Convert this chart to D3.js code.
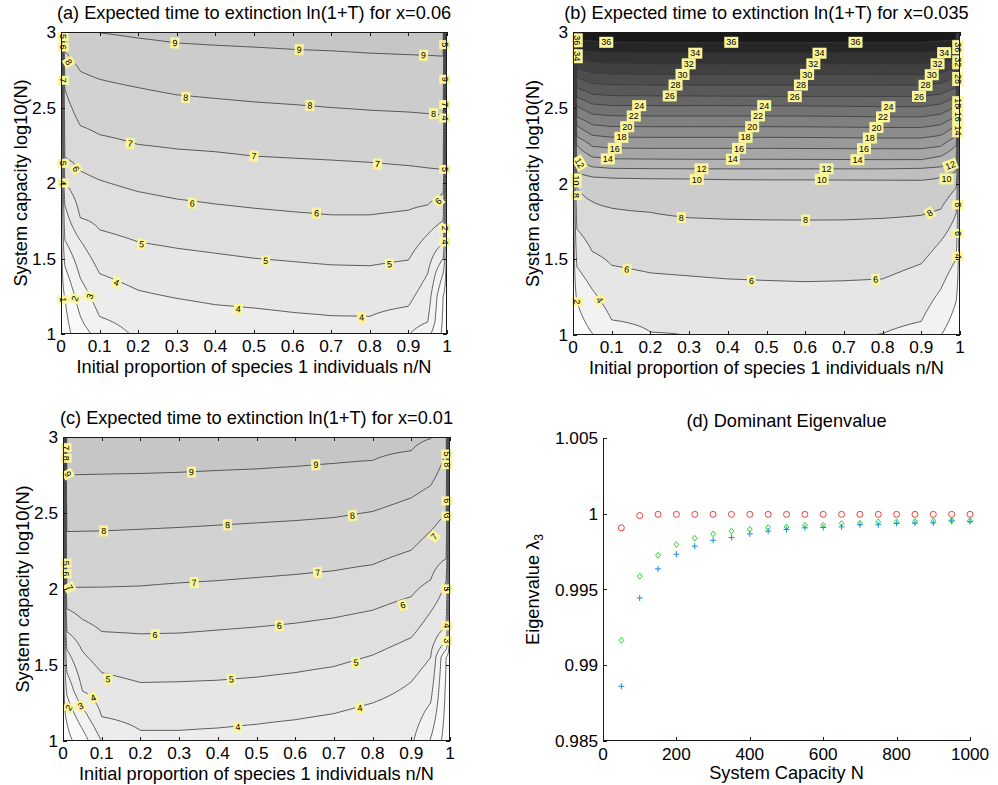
<!DOCTYPE html>
<html><head><meta charset="utf-8">
<script src="https://cdn.jsdelivr.net/npm/d3@7"></script>
<style>
body{margin:0;background:#fff}
text{font-family:"Liberation Sans",Arial,Helvetica,sans-serif;fill:#000}
</style></head>
<body><svg id="chart" width="998" height="785"></svg>
<script>
// ---------- shared axis data ----------
const xTickVals = [0,0.1,0.2,0.3,0.4,0.5,0.6,0.7,0.8,0.9,1];
const yTickVals = [1,1.5,2,2.5,3];
// grid columns (n/N) at which the surface profiles were read
const gridX = [0,0.01,0.05,0.1,0.2,0.3,0.4,0.5,0.6,0.7,0.8,0.9,0.95,0.99,1];

// ---------- panel (a) x=0.06 ----------
const levelsA = [1,2,3,4,5,6,7,8,9];
const bottomA = [0.5,0.6,1.6,2.3,3.2,3.3,3.4,3.45,3.5,3.55,3.6,3.05,2.3,0.8,0.5];
const topA    = [0.5,8.4,8.8,9.02,9.12,9.2,9.22,9.25,9.28,9.3,9.32,9.35,9.35,9.3,0.5];
const crossA = [ // height log10(N) where each level crosses each column
  [null,1.24,null,null,null,null,null,null,null,null,null,null,null,1.25,null],
  [null,1.45,1.12,null,null,null,null,null,null,null,null,null,null,1.40,null],
  [null,1.62,1.37,1.115,null,null,null,null,null,null,null,null,1.08,1.50,null],
  [null,1.85,1.62,1.40,1.29,1.236,1.194,1.172,1.143,1.121,1.117,1.183,1.40,1.60,null],
  [null,2.00,1.77,1.69,1.61,1.568,1.535,1.502,1.48,1.458,1.452,1.49,1.66,1.75,null],
  [null,2.17,2.08,2.02,1.943,1.894,1.861,1.833,1.81,1.789,1.789,1.82,1.855,1.93,null],
  [null,2.62,2.38,2.32,2.255,2.225,2.207,2.178,2.165,2.152,2.137,2.115,2.10,2.09,null],
  [null,2.87,2.74,2.687,2.632,2.584,2.56,2.537,2.52,2.50,2.482,2.47,2.46,2.45,null],
  [null,null,null,2.995,2.96,2.927,2.912,2.90,2.885,2.875,2.86,2.85,2.845,2.84,null]
];
const labelsA = [
  [0.295,2.927,"9",3],[0.617,2.883,"9",2],[0.939,2.846,"9",2],
  [0.323,2.566,"8",4],[0.645,2.513,"8",3],[0.965,2.46,"8",0],
  [0.179,2.262,"7",8],[0.5,2.178,"7",4],[0.82,2.126,"7",3],
  [0.34,1.866,"6",5],[0.662,1.80,"6",2],[0.978,1.881,"6",-40],
  [0.209,1.595,"5",8],[0.53,1.485,"5",3],[0.851,1.463,"5",-5],
  [0.144,1.341,"4",22],[0.459,1.165,"4",5],[0.779,1.11,"4",-3],
  [0.039,2.093,"6",60],[0.02,2.80,"8",60],[0.075,1.249,"3",-70],[0.036,1.234,"2",-70],
  [0.005,1.227,"1",90],[0.006,2.0,"4",90],[0.006,2.13,"5",90],[0.006,2.68,"7",90],
  [0.006,2.90,"6",90],[0.006,2.97,"5",90],[0.994,2.916,"5",90],[0.994,2.687,"9",90],
  [0.994,2.52,"7",90],[0.994,2.43,"4",90],[0.994,2.09,"5",90],[0.994,1.70,"2",90],[0.994,1.61,"4",90]
];

// ---------- panel (b) x=0.035 ----------
const levelsB = [2,4,6,8,10,12,14,16,18,20,22,24,26,28,30,32,34,36];
const bottomB = [0.5,1.0,1.95,2.8,3.7,4.05,4.2,4.25,4.25,4.15,3.95,3.3,2.05,1.0,0.5];
const topB    = [0.5,36.5,36.8,37,37,37,37,37,37,37,37,37,36.8,36.5,0.5];
const crossB = [
  [null,1.22,1.01,null,null,null,null,null,null,null,null,null,null,1.22,null],
  [null,1.45,1.30,1.10,1.02,null,null,null,null,null,null,1.09,1.30,1.50,null],
  [null,1.70,1.55,1.46,1.41,1.39,1.37,1.36,1.352,1.358,1.37,1.47,1.62,1.80,null],
  [null,1.97,1.88,1.838,1.81,1.775,1.765,1.76,1.759,1.76,1.77,1.79,1.83,1.97,null],
  [null,2.07,2.045,2.038,2.033,2.03,2.028,2.027,2.027,2.026,2.025,2.023,2.04,2.08,null],
  [null,2.16,2.11,2.10,2.098,2.097,2.097,2.097,2.097,2.097,2.097,2.10,2.11,2.16,null],
  [null,2.25,2.175,2.163,2.161,2.16,2.16,2.16,2.159,2.158,2.157,2.157,2.18,2.25,null],
  [null,2.31,2.245,2.234,2.232,2.232,2.232,2.232,2.231,2.23,2.23,2.23,2.245,2.31,null],
  [null,2.38,2.318,2.306,2.305,2.305,2.305,2.305,2.304,2.302,2.30,2.30,2.318,2.38,null],
  [null,2.44,2.388,2.376,2.375,2.375,2.375,2.375,2.374,2.372,2.37,2.37,2.388,2.44,null],
  [null,2.51,2.458,2.447,2.446,2.446,2.446,2.446,2.445,2.443,2.44,2.44,2.458,2.51,null],
  [null,2.57,2.525,2.515,2.514,2.514,2.514,2.514,2.512,2.51,2.507,2.507,2.525,2.57,null],
  [null,2.63,2.59,2.58,2.578,2.578,2.576,2.575,2.574,2.574,2.574,2.575,2.59,2.63,null],
  [null,2.70,2.66,2.652,2.65,2.65,2.65,2.65,2.65,2.649,2.648,2.648,2.66,2.70,null],
  [null,2.76,2.73,2.722,2.72,2.72,2.72,2.72,2.72,2.719,2.718,2.718,2.73,2.76,null],
  [null,2.82,2.80,2.792,2.79,2.79,2.79,2.79,2.79,2.79,2.79,2.79,2.80,2.82,null],
  [null,2.88,2.87,2.862,2.86,2.86,2.86,2.86,2.86,2.861,2.862,2.864,2.87,2.88,null],
  [null,2.95,2.94,2.932,2.93,2.93,2.93,2.93,2.93,2.93,2.93,2.93,2.94,2.95,null]
];
const labelsB = [
  [0.09,2.162,"14",0],[0.108,2.232,"16",0],[0.125,2.305,"18",0],[0.14,2.375,"20",0],[0.157,2.446,"22",0],[0.171,2.514,"24",0],
  [0.25,2.578,"26",0],[0.265,2.65,"28",0],[0.283,2.72,"30",0],[0.299,2.79,"32",0],[0.316,2.86,"34",0],[0.086,2.932,"36",0],
  [0.413,2.16,"14",0],[0.429,2.232,"16",0],[0.446,2.305,"18",0],[0.463,2.375,"20",0],[0.478,2.446,"22",0],[0.494,2.514,"24",0],
  [0.573,2.574,"26",0],[0.589,2.65,"28",0],[0.605,2.72,"30",0],[0.621,2.79,"32",0],[0.637,2.86,"34",0],[0.409,2.932,"36",0],
  [0.735,2.157,"14",0],[0.752,2.23,"16",0],[0.767,2.3,"18",0],[0.784,2.37,"20",0],[0.801,2.44,"22",0],[0.815,2.507,"24",0],
  [0.894,2.575,"26",0],[0.911,2.648,"28",0],[0.927,2.718,"30",0],[0.942,2.79,"32",0],[0.959,2.864,"34",0],[0.73,2.932,"36",0],
  [0.332,2.097,"12",0],[0.32,2.027,"10",0],[0.655,2.097,"12",0],[0.643,2.027,"10",0],[0.975,2.12,"12",-20],[0.965,2.03,"10",0],
  [0.28,1.775,"8",0],[0.601,1.759,"8",0],[0.922,1.805,"8",-30],
  [0.139,1.433,"6",10],[0.461,1.359,"6",0],[0.782,1.367,"6",-3],
  [0.069,1.231,"4",55],[0.012,1.22,"2",90],
  [0.017,2.135,"12",60],[0.008,2.02,"10",90],[0.008,1.92,"8",90],[0.011,2.945,"36",90],[0.011,2.84,"34",90],
  [0.994,2.9,"36",90],[0.994,2.8,"32",90],[0.994,2.69,"28",90],[0.994,2.53,"18",90],[0.994,2.44,"16",90],
  [0.994,2.35,"14",90],[0.994,1.86,"8",90],[0.994,1.67,"6",90],[0.994,1.52,"4",90]
];

// ---------- panel (c) x=0.01 ----------
const levelsC = [1,2,3,4,5,6,7,8,9];
const bottomC = [0.5,0.7,1.5,3.02,3.7,3.7,3.65,3.6,3.5,3.4,3.2,3.15,1.95,0.6,0.5];
const topC    = [0.5,9.4,9.45,9.5,9.5,9.5,9.45,9.4,9.35,9.3,9.25,9.15,9.05,8.6,0.5];
const crossC = [
  [null,1.12,null,null,null,null,null,null,null,null,null,null,null,1.55,null],
  [null,1.30,1.08,null,null,null,null,null,null,null,null,null,1.02,1.60,null],
  [null,1.45,1.22,null,null,null,null,null,null,null,null,null,1.25,1.65,null],
  [null,1.60,1.33,1.16,1.07,1.07,1.085,1.11,1.14,1.18,1.25,1.39,1.55,1.75,null],
  [null,1.72,1.59,1.45,1.385,1.39,1.40,1.42,1.45,1.49,1.565,1.68,1.85,2.05,null],
  [null,1.87,1.80,1.72,1.705,1.71,1.73,1.75,1.775,1.81,1.86,1.95,2.06,2.20,null],
  [null,2.01,2.011,2.012,2.02,2.04,2.055,2.075,2.095,2.12,2.16,2.255,2.38,2.50,null],
  [null,2.378,2.38,2.382,2.393,2.405,2.42,2.435,2.45,2.47,2.51,2.60,2.68,2.90,null],
  [null,2.75,2.752,2.755,2.76,2.767,2.78,2.79,2.805,2.825,2.845,2.91,2.99,null,null]
];
const labelsC = [
  [0.332,2.769,"9",-2],[0.653,2.818,"9",-3],[0.013,2.756,"9",60],
  [0.105,2.382,"8",0],[0.425,2.422,"8",-3],[0.748,2.483,"8",-6],
  [0.339,2.042,"7",-3],[0.658,2.108,"7",-5],[0.959,2.345,"7",-50],[0.017,2.01,"7",60],
  [0.238,1.701,"6",0],[0.559,1.758,"6",-4],[0.878,1.894,"6",-15],
  [0.116,1.407,"5",8],[0.435,1.407,"5",-2],[0.757,1.516,"5",-8],
  [0.452,1.092,"4",-3],[0.767,1.218,"4",-10],[0.078,1.284,"4",-25],
  [0.046,1.229,"3",-25],[0.015,1.218,"2",-60],
  [0.008,2.17,"5",90],[0.008,2.10,"6",90],[0.008,2.93,"7",90],[0.008,2.86,"8",90],
  [0.992,2.888,"5",90],[0.992,2.818,"8",90],[0.992,2.58,"6",90],[0.992,2.48,"3",90],
  [0.992,2.0,"5",90],[0.992,1.758,"4",90],[0.992,1.66,"3",90]
];

// ---------- panel (d) dominant eigenvalue ----------
const capacityN = [50,100,150,200,250,300,350,400,450,500,550,600,650,700,750,800,850,900,950,1000];
const eigRed   = [0.99907,0.99988,0.99996,0.99996,0.99996,0.99996,0.99996,0.99996,0.99996,0.99996,0.99996,0.99996,0.99996,0.99996,0.99996,0.99996,0.99996,0.99996,0.99996,0.99996];
const eigGreen = [0.99164,0.99587,0.99726,0.99797,0.99838,0.99867,0.99885,0.99898,0.99909,0.99913,0.99924,0.99924,0.99936,0.99938,0.99947,0.99947,0.99949,0.99953,0.99955,0.99953];
const eigBlue  = [0.98861,0.99444,0.99636,0.99733,0.99786,0.99825,0.99843,0.99867,0.99885,0.99896,0.99907,0.99909,0.99913,0.99927,0.99927,0.99936,0.99938,0.9994,0.99953,0.99949];
const dXTicks = [0,200,400,600,800,1000];
const dYTicks = [0.985,0.99,0.995,1,1.005];

// ---------- drawing ----------
const svg = d3.select("#chart");
const TICK_FS = 17.2, LAB_FS = 18.2;
const grayOf = v => { const g = Math.round(255*(1 - v/40)); return `rgb(${g},${g},${g})`; };

function contourPanel(id, P, title, levels, bottom, top, cross, labels) {
  const xs = d3.scaleLinear().domain([0,1]).range([P.x0,P.x1]);
  const ys = d3.scaleLinear().domain([1,3]).range([P.y1,P.y0]);
  const nx = gridX.length, ny = 201;
  const profiles = gridX.map((_, j) => {
    const k = [[1, bottom[j]]];
    levels.forEach((L, i) => { if (cross[i][j] != null) k.push([cross[i][j], L]); });
    k.push([3, top[j]]);
    return d3.scaleLinear().domain(k.map(d=>d[0])).range(k.map(d=>d[1]));
  });
  const rowY = d3.range(ny).map(i => 1 + 2*i/(ny-1));
  const values = new Array(nx*ny);
  for (let i=0;i<ny;i++) for (let j=0;j<nx;j++) values[i*nx+j] = profiles[j](rowY[i]);
  const ix = d3.scaleLinear().domain(d3.range(nx)).range(gridX).clamp(true);
  const iy = d3.scaleLinear().domain([0,ny-1]).range([1,3]).clamp(true);
  const proj = d3.geoTransform({point(x,y){ this.stream.point(xs(ix(x-0.5)), ys(iy(y-0.5))); }});
  const path = d3.geoPath(proj);
  const contours = d3.contours().size([nx,ny]).thresholds(levels)(values);

  const g = svg.append("g");
  svg.append("clipPath").attr("id","clip"+id).append("rect")
    .attr("x",P.x0).attr("y",P.y0).attr("width",P.x1-P.x0).attr("height",P.y1-P.y0);
  const pg = g.append("g").attr("clip-path",`url(#clip${id})`);
  pg.append("rect").attr("x",P.x0).attr("y",P.y0).attr("width",P.x1-P.x0).attr("height",P.y1-P.y0)
    .attr("fill",grayOf(0.2));
  pg.selectAll("path.f").data(contours).join("path").attr("class","f")
    .attr("d",path).attr("fill",d=>grayOf(d.value)).attr("stroke","none");
  pg.selectAll("path.l").data(contours).join("path").attr("class","l")
    .attr("d",path).attr("fill","none").attr("stroke","#3a3a3a").attr("stroke-width",0.8);

  // contour labels
  const lg = g.selectAll("g.lab").data(labels).join("g").attr("class","lab")
    .attr("transform",d=>`translate(${xs(d[0])},${ys(d[1])}) rotate(${d[3]})`);
  lg.append("rect").attr("fill","#fbf59a");
  const texts = lg.append("text").attr("text-anchor","middle").attr("dy","0.35em")
    .style("font-size","9px").text(d=>d[2]);
  texts.each(function(){
    const w = this.getComputedTextLength();
    d3.select(this.previousSibling).attr("x",-w/2-2).attr("y",-5.5).attr("width",w+4).attr("height",11);
  });

  // frame & ticks
  g.append("rect").attr("x",P.x0+0.5).attr("y",P.y0+0.5).attr("width",P.x1-P.x0-1).attr("height",P.y1-P.y0-1)
    .attr("fill","none").attr("stroke","#1a1a1a").attr("stroke-width",1);
  const tl = 4;
  xTickVals.forEach(v => {
    const x = Math.round(xs(v))+0.5;
    g.append("line").attr("x1",x).attr("x2",x).attr("y1",P.y1).attr("y2",P.y1-tl).attr("stroke","#1a1a1a");
    g.append("line").attr("x1",x).attr("x2",x).attr("y1",P.y0).attr("y2",P.y0+tl).attr("stroke","#1a1a1a");
    g.append("text").attr("x",xs(v)).attr("y",P.y1+18).attr("text-anchor","middle")
      .style("font-size",TICK_FS+"px").text(d3.format("")(v));
  });
  yTickVals.forEach(v => {
    const y = Math.round(ys(v))+0.5;
    g.append("line").attr("x1",P.x0).attr("x2",P.x0+tl).attr("y1",y).attr("y2",y).attr("stroke","#1a1a1a");
    g.append("line").attr("x1",P.x1).attr("x2",P.x1-tl).attr("y1",y).attr("y2",y).attr("stroke","#1a1a1a");
    g.append("text").attr("x",P.x0-5).attr("y",ys(v)+6).attr("text-anchor","end")
      .style("font-size",TICK_FS+"px").text(v);
  });
  g.append("text").attr("x",(P.x0+P.x1)/2).attr("y",P.y0-13.5).attr("text-anchor","middle")
    .style("font-size",LAB_FS+"px").text(title);
  g.append("text").attr("x",(P.x0+P.x1)/2).attr("y",P.y1+38.5).attr("text-anchor","middle")
    .style("font-size",LAB_FS+"px").text("Initial proportion of species 1 individuals n/N");
  g.append("text").attr("transform",`translate(${P.x0-34},${(P.y0+P.y1)/2}) rotate(-90)`)
    .attr("text-anchor","middle").style("font-size",LAB_FS+"px").text("System capacity log10(N)");
}

contourPanel("A",{x0:61,x1:447,y0:32,y1:334},"(a) Expected time to extinction ln(1+T) for x=0.06",
  levelsA,bottomA,topA,crossA,labelsA);
contourPanel("B",{x0:573,x1:960,y0:32,y1:335},"(b) Expected time to extinction ln(1+T) for x=0.035",
  levelsB,bottomB,topB,crossB,labelsB);
contourPanel("C",{x0:63,x1:450,y0:437,y1:741},"(c) Expected time to extinction ln(1+T) for x=0.01",
  levelsC,bottomC,topC,crossC,labelsC);

// panel d
(function(){
  const P = {x0:603,x1:970,y0:438,y1:741};
  const xs = d3.scaleLinear().domain([0,1000]).range([P.x0,P.x1]);
  const ys = d3.scaleLinear().domain([0.985,1.005]).range([P.y1,P.y0]);
  const g = svg.append("g");
  const ax = "#1a1a1a";
  g.append("line").attr("x1",P.x0+0.5).attr("x2",P.x0+0.5).attr("y1",P.y0).attr("y2",P.y1).attr("stroke",ax);
  g.append("line").attr("x1",P.x0).attr("x2",P.x1).attr("y1",P.y1-0.5).attr("y2",P.y1-0.5).attr("stroke",ax);
  dXTicks.forEach(v => {
    const x = Math.round(xs(v))+0.5;
    g.append("line").attr("x1",x).attr("x2",x).attr("y1",P.y1).attr("y2",P.y1-4).attr("stroke",ax);
    g.append("text").attr("x",xs(v)).attr("y",P.y1+18.5).attr("text-anchor","middle")
      .style("font-size",TICK_FS+"px").text(v);
  });
  dYTicks.forEach(v => {
    const y = Math.round(ys(v))+0.5;
    g.append("line").attr("x1",P.x0).attr("x2",P.x0+4).attr("y1",y).attr("y2",y).attr("stroke",ax);
    g.append("text").attr("x",P.x0-5).attr("y",ys(v)+6).attr("text-anchor","end")
      .style("font-size",TICK_FS+"px").text(d3.format("")(v));
  });
  g.selectAll("circle.r").data(capacityN).join("circle").attr("class","r")
    .attr("cx",(d)=>xs(d)).attr("cy",(d,i)=>ys(eigRed[i])).attr("r",3)
    .attr("fill","none").attr("stroke","#f03c3c").attr("stroke-width",1);
  g.selectAll("path.g").data(capacityN).join("path").attr("class","g")
    .attr("transform",(d,i)=>`translate(${xs(d)},${ys(eigGreen[i])})`)
    .attr("d","M0,-2.9L2.4,0L0,2.9L-2.4,0Z")
    .attr("fill","none").attr("stroke","#26d926").attr("stroke-width",1);
  g.selectAll("path.b").data(capacityN).join("path").attr("class","b")
    .attr("transform",(d,i)=>`translate(${xs(d)},${ys(eigBlue[i])})`)
    .attr("d","M-3,0H3M0,-3V3")
    .attr("fill","none").attr("stroke","#1a8de0").attr("stroke-width",1);
  g.append("text").attr("x",(P.x0+P.x1)/2).attr("y",P.y0-11).attr("text-anchor","middle")
    .style("font-size",LAB_FS+"px").text("(d) Dominant Eigenvalue");
  g.append("text").attr("x",(P.x0+P.x1)/2).attr("y",P.y1+38).attr("text-anchor","middle")
    .style("font-size",LAB_FS+"px").text("System Capacity N");
  const yl = g.append("text").attr("transform",`translate(${P.x0-64},${(P.y0+P.y1)/2}) rotate(-90)`)
    .attr("text-anchor","middle").style("font-size",LAB_FS+"px");
  yl.append("tspan").text("Eigenvalue \u03bb");
  yl.append("tspan").attr("dy","0.35em").style("font-size","12px").text("3");
})();
</script></body></html>
